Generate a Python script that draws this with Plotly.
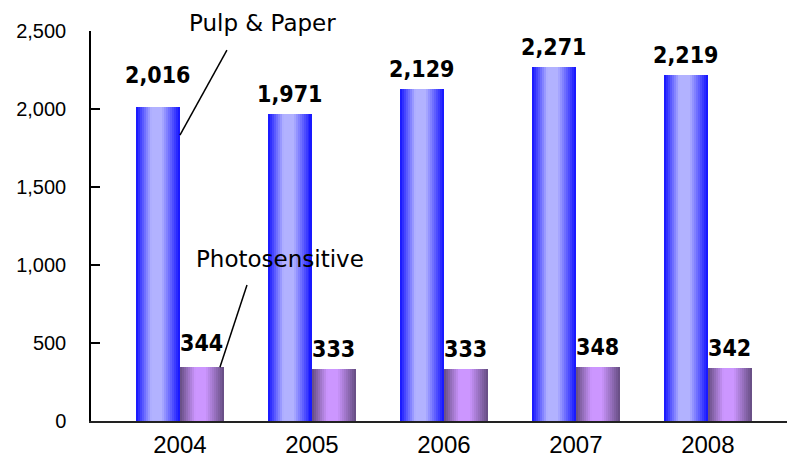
import plotly.graph_objects as go

years = ["2004", "2005", "2006", "2007", "2008"]
pulp_paper = [2016, 1971, 2129, 2271, 2219]
photosensitive = [344, 333, 333, 348, 342]
series_names = ["Pulp & Paper", "Photosensitive"]
y_ticks = [0, 500, 1000, 1500, 2000, 2500]

# style
BAR_W = 1 / 3
N_SLICES = 22
blue_dark, blue_light = (16, 16, 255), (178, 178, 255)
purp_dark, purp_light = (100, 76, 128), (204, 150, 255)
label_shift_pp = [17, 5, 5, 5, 5]
label_shift_ph = [9, 5, 5, 5, 5]


def shade(t):
    stops = [(0.0, 0.0), (0.35, 1.0), (0.58, 1.0), (1.0, 0.0)]
    for (a, fa), (b, fb) in zip(stops[:-1], stops[1:]):
        if a <= t <= b:
            return fa + (fb - fa) * (t - a) / (b - a)
    return 0.0


def mix(c0, c1, f):
    return "rgb(%d,%d,%d)" % tuple(round(c0[k] + (c1[k] - c0[k]) * f) for k in range(3))


fig = go.Figure()
dw = BAR_W / N_SLICES
for vals, off0, dark, light in [(pulp_paper, -BAR_W, blue_dark, blue_light),
                                 (photosensitive, 0.0, purp_dark, purp_light)]:
    for j in range(N_SLICES):
        t = (j + 0.5) / N_SLICES
        w = dw * 1.6 if j < N_SLICES - 1 else dw
        fig.add_trace(go.Bar(
            x=years, y=vals, width=w, offset=off0 + j * dw,
            marker=dict(color=mix(dark, light, shade(t)), line=dict(width=0)),
            showlegend=False, hoverinfo="skip",
        ))

lab_font = dict(family="DejaVu Sans Condensed", size=23, color="black", weight="bold")
annotations = []
for i, v in enumerate(pulp_paper):
    annotations.append(dict(x=i - BAR_W / 2, y=v, xref="x", yref="y", text=f"{v:,}",
                            showarrow=False, yanchor="bottom", yshift=label_shift_pp[i],
                            font=lab_font))
for i, v in enumerate(photosensitive):
    annotations.append(dict(x=i + BAR_W / 2, y=v, xref="x", yref="y", text=f"{v:,}",
                            showarrow=False, yanchor="bottom", yshift=label_shift_ph[i],
                            font=lab_font))

name_font = dict(family="DejaVu Sans", size=23, color="black")
annotations.append(dict(x=0.2457, y=1.0205, xref="paper", yref="paper", text=series_names[0],
                        xanchor="center", yanchor="middle",
                        showarrow=False, font=name_font))
annotations.append(dict(x=0.758, y=1038, xref="x", yref="y", text=series_names[1],
                        xanchor="center", yanchor="middle",
                        showarrow=False, font=name_font))
fig.update_layout(annotations=annotations)

shapes = [
    dict(type="line", xref="x", yref="y", x0=0.356, y0=2378, x1=0.0, y1=1833,
         line=dict(color="black", width=1.5)),
    dict(type="line", xref="x", yref="y", x0=0.508, y0=872, x1=0.303, y1=344,
         line=dict(color="black", width=1.5)),
]

fig.update_layout(
    width=787, height=459,
    margin=dict(l=91, r=0, t=31, b=38),
    paper_bgcolor="white", plot_bgcolor="white",
    barmode="overlay", bargap=0,
    shapes=shapes,
    xaxis=dict(type="category", range=[-0.674, 4.6], showline=True, linecolor="#222",
               linewidth=2, ticks="", showgrid=False, zeroline=False, automargin=False,
               tickfont=dict(family="Liberation Sans", size=24, color="black"),
               ticklabelstandoff=1),
    yaxis=dict(range=[0, 2500], tickvals=y_ticks, tickformat=",", showline=True,
               linecolor="black", linewidth=1.5, ticks="inside", ticklen=9,
               tickwidth=1.5, tickcolor="black", showgrid=False, zeroline=False,
               automargin=False,
               tickfont=dict(family="Liberation Sans", size=20, color="black"),
               ticklabelstandoff=19),
)

fig.write_html("out.html")
